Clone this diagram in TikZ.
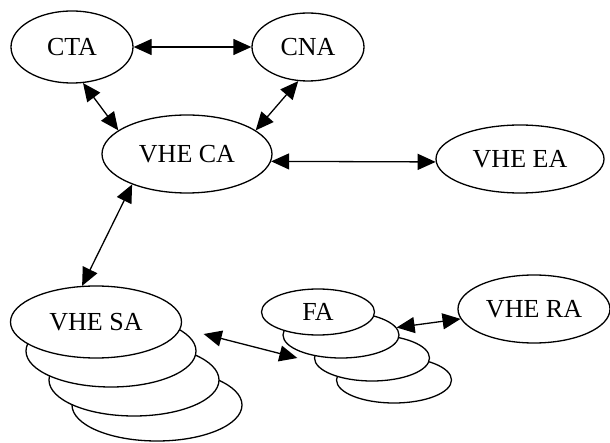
\documentclass[tikz,border=0pt]{standalone}
\usepackage{fontspec}
\setmainfont{Liberation Serif}
\usepackage{tikz}
\usetikzlibrary{arrows.meta,shapes.geometric,calc}

\begin{document}
\begin{tikzpicture}[
  x=1pt, y=-1pt,
  font=\fontsize{26}{30}\selectfont,
  agent/.style={draw, ellipse, line width=1.3pt, fill=white, inner sep=0pt},
  arr/.style={{Triangle[length=18pt,width=16pt]}-{Triangle[length=18pt,width=16pt]}, line width=1.3pt},
]
\useasboundingbox (0,0) rectangle (610,443);
\node[agent, minimum width=122pt, minimum height=72pt] (cta) at (72,47) {CTA};
\node[agent, minimum width=112pt, minimum height=68pt] (cna) at (308,47) {CNA};
\node[agent, minimum width=170pt, minimum height=78pt] (ca) at (187,154) {VHE CA};
\node[agent, minimum width=168pt, minimum height=68pt] (ea) at (520,159) {VHE EA};
\node[agent, minimum width=152pt, minimum height=68pt] (ra) at (534,309) {VHE RA};
% service agents, back to front
\node[agent, minimum width=170pt, minimum height=72pt] (sa4) at (157,405) {};
\node[agent, minimum width=170pt, minimum height=72pt] (sa3) at (134,380) {};
\node[agent, minimum width=170pt, minimum height=72pt] (sa2) at (111,351) {};
\node[agent, minimum width=171pt, minimum height=72pt] (sa1) at (96,322) {VHE SA};
% feature agents, back to front
\node[agent, minimum width=115pt, minimum height=46pt] (fa4) at (394,380) {};
\node[agent, minimum width=115pt, minimum height=46pt] (fa3) at (372,358) {};
\node[agent, minimum width=116pt, minimum height=46pt] (fa2) at (341,335) {};
\node[agent, minimum width=113pt, minimum height=46pt] (fa1) at (318,312) {FA};
\coordinate (saout) at ($(sa2.east)+(7,-17)$);
\coordinate (fain) at ($(fa2.west)+(15,23)$);
\draw[arr] (cta) -- (cna);
\draw[arr] (cta.287) -- (ca.161);
\draw[arr] (cna.254) -- (ca.19);
\draw[arr] (ca.-5) -- (ea.182);
\draw[arr] (ca.209) -- (sa1.111);
\draw[arr] (saout) -- (fain);
\draw[arr] (fa2) -- (ra);
\end{tikzpicture}
\end{document}
